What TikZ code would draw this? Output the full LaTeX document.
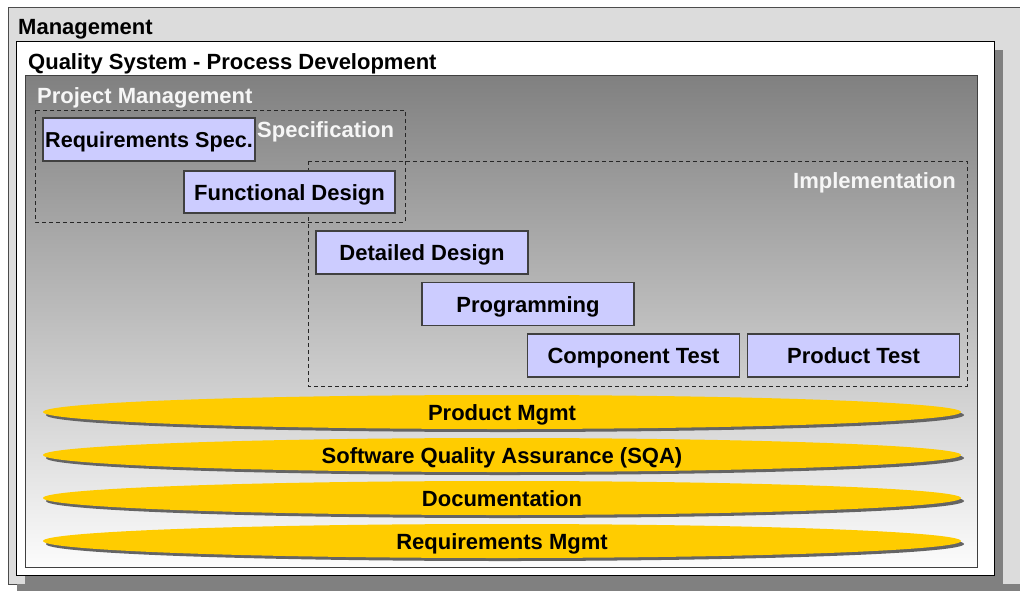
\documentclass[tikz,border=0pt]{standalone}
\usepackage{fontspec}
\setmainfont{Liberation Sans}
\usetikzlibrary{shapes.geometric,shadows}

\definecolor{mgmtgray}{RGB}{220,220,220}
\definecolor{shadowgray}{RGB}{128,128,128}
\definecolor{boxfill}{RGB}{204,204,255}
\definecolor{boxline}{RGB}{64,64,64}
\definecolor{layeryellow}{RGB}{255,204,0}
\definecolor{layershadow}{RGB}{100,100,100}
\definecolor{pmtop}{RGB}{128,128,128}
\definecolor{pmmid}{RGB}{196,196,196}
\definecolor{pmbot}{RGB}{252,252,252}
\definecolor{paletext}{RGB}{246,246,246}

\begin{document}
\begin{tikzpicture}[x=1pt,y=-1pt,
  lbl/.style={font=\fontsize{22}{26}\selectfont\bfseries, inner sep=0pt},
  phase/.style={draw=black!85, dash pattern=on 4pt off 3pt, line width=0.9pt},
  stepbox/.style={lbl, draw=boxline, fill=boxfill, line width=1.2pt,
    minimum width=212pt, minimum height=43pt, text height=16pt, text depth=0pt},
  layer/.style={lbl, ellipse, fill=layeryellow, minimum width=918pt, minimum height=34pt,
    text height=16pt, text depth=0pt,
    drop shadow={shadow xshift=3pt, shadow yshift=-3pt, fill=layershadow, opacity=1}},
]
\useasboundingbox (0,0) rectangle (1020,590);

% Management frame (open on the right) and the shadow under it
\fill[shadowgray] (17,570) rectangle (1060,620);
\fill[mgmtgray] (8,7) rectangle (1060,584);
\draw[black!70, line width=0.9pt] (1060,7) -- (8,7) -- (8,584) -- (17,584);

% Quality system frame and its shadow
\fill[shadowgray] (25,50) rectangle (1003,584);
\draw[fill=white, draw=black, line width=1pt] (16,41) rectangle (994,575);

% Project management area
\draw[draw=black!75, line width=0.8pt, top color=pmtop, middle color=pmmid, bottom color=pmbot]
  (25,75) rectangle (977,567);

% Frame labels
\node[lbl, anchor=base west] (mgmt) at (18,34) {Management};
\node[lbl, anchor=base west] (qs) at (28,69) {Quality System - Process Development};
\node[lbl, anchor=base west, text=paletext] (pm) at (37,103) {Project Management};

% Phase groups
\draw[phase] (35,110) rectangle (405,222);
\draw[phase] (308,161) rectangle (967,386);
\node[lbl, anchor=base west, text=paletext] (spec) at (257,137) {Specification};
\node[lbl, anchor=base east, text=paletext] (impl) at (956,188) {Implementation};

% Process steps
\node[stepbox, font=\fontsize{21.6}{26}\selectfont\bfseries] (req) at (149,139.5) {Requirements Spec.};
\node[stepbox, minimum width=211pt, minimum height=42pt] (fd) at (289.5,192) {Functional Design};
\node[stepbox] (dd)   at (422,252.5) {Detailed Design};
\node[stepbox] (prog) at (528,304) {Programming};
\node[stepbox] (ct)   at (633.5,355.5) {Component Test};
\node[stepbox] (pt)   at (853.5,355.5) {Product Test};

% Cross-cutting activities
\node[layer] (prodmgmt) at (502,412) {Product Mgmt};
\node[layer] (sqa)      at (502,455) {Software Quality Assurance (SQA)};
\node[layer] (doc)      at (502,498) {Documentation};
\node[layer] (reqmgmt)  at (502,541) {Requirements Mgmt};
\end{tikzpicture}
\end{document}
